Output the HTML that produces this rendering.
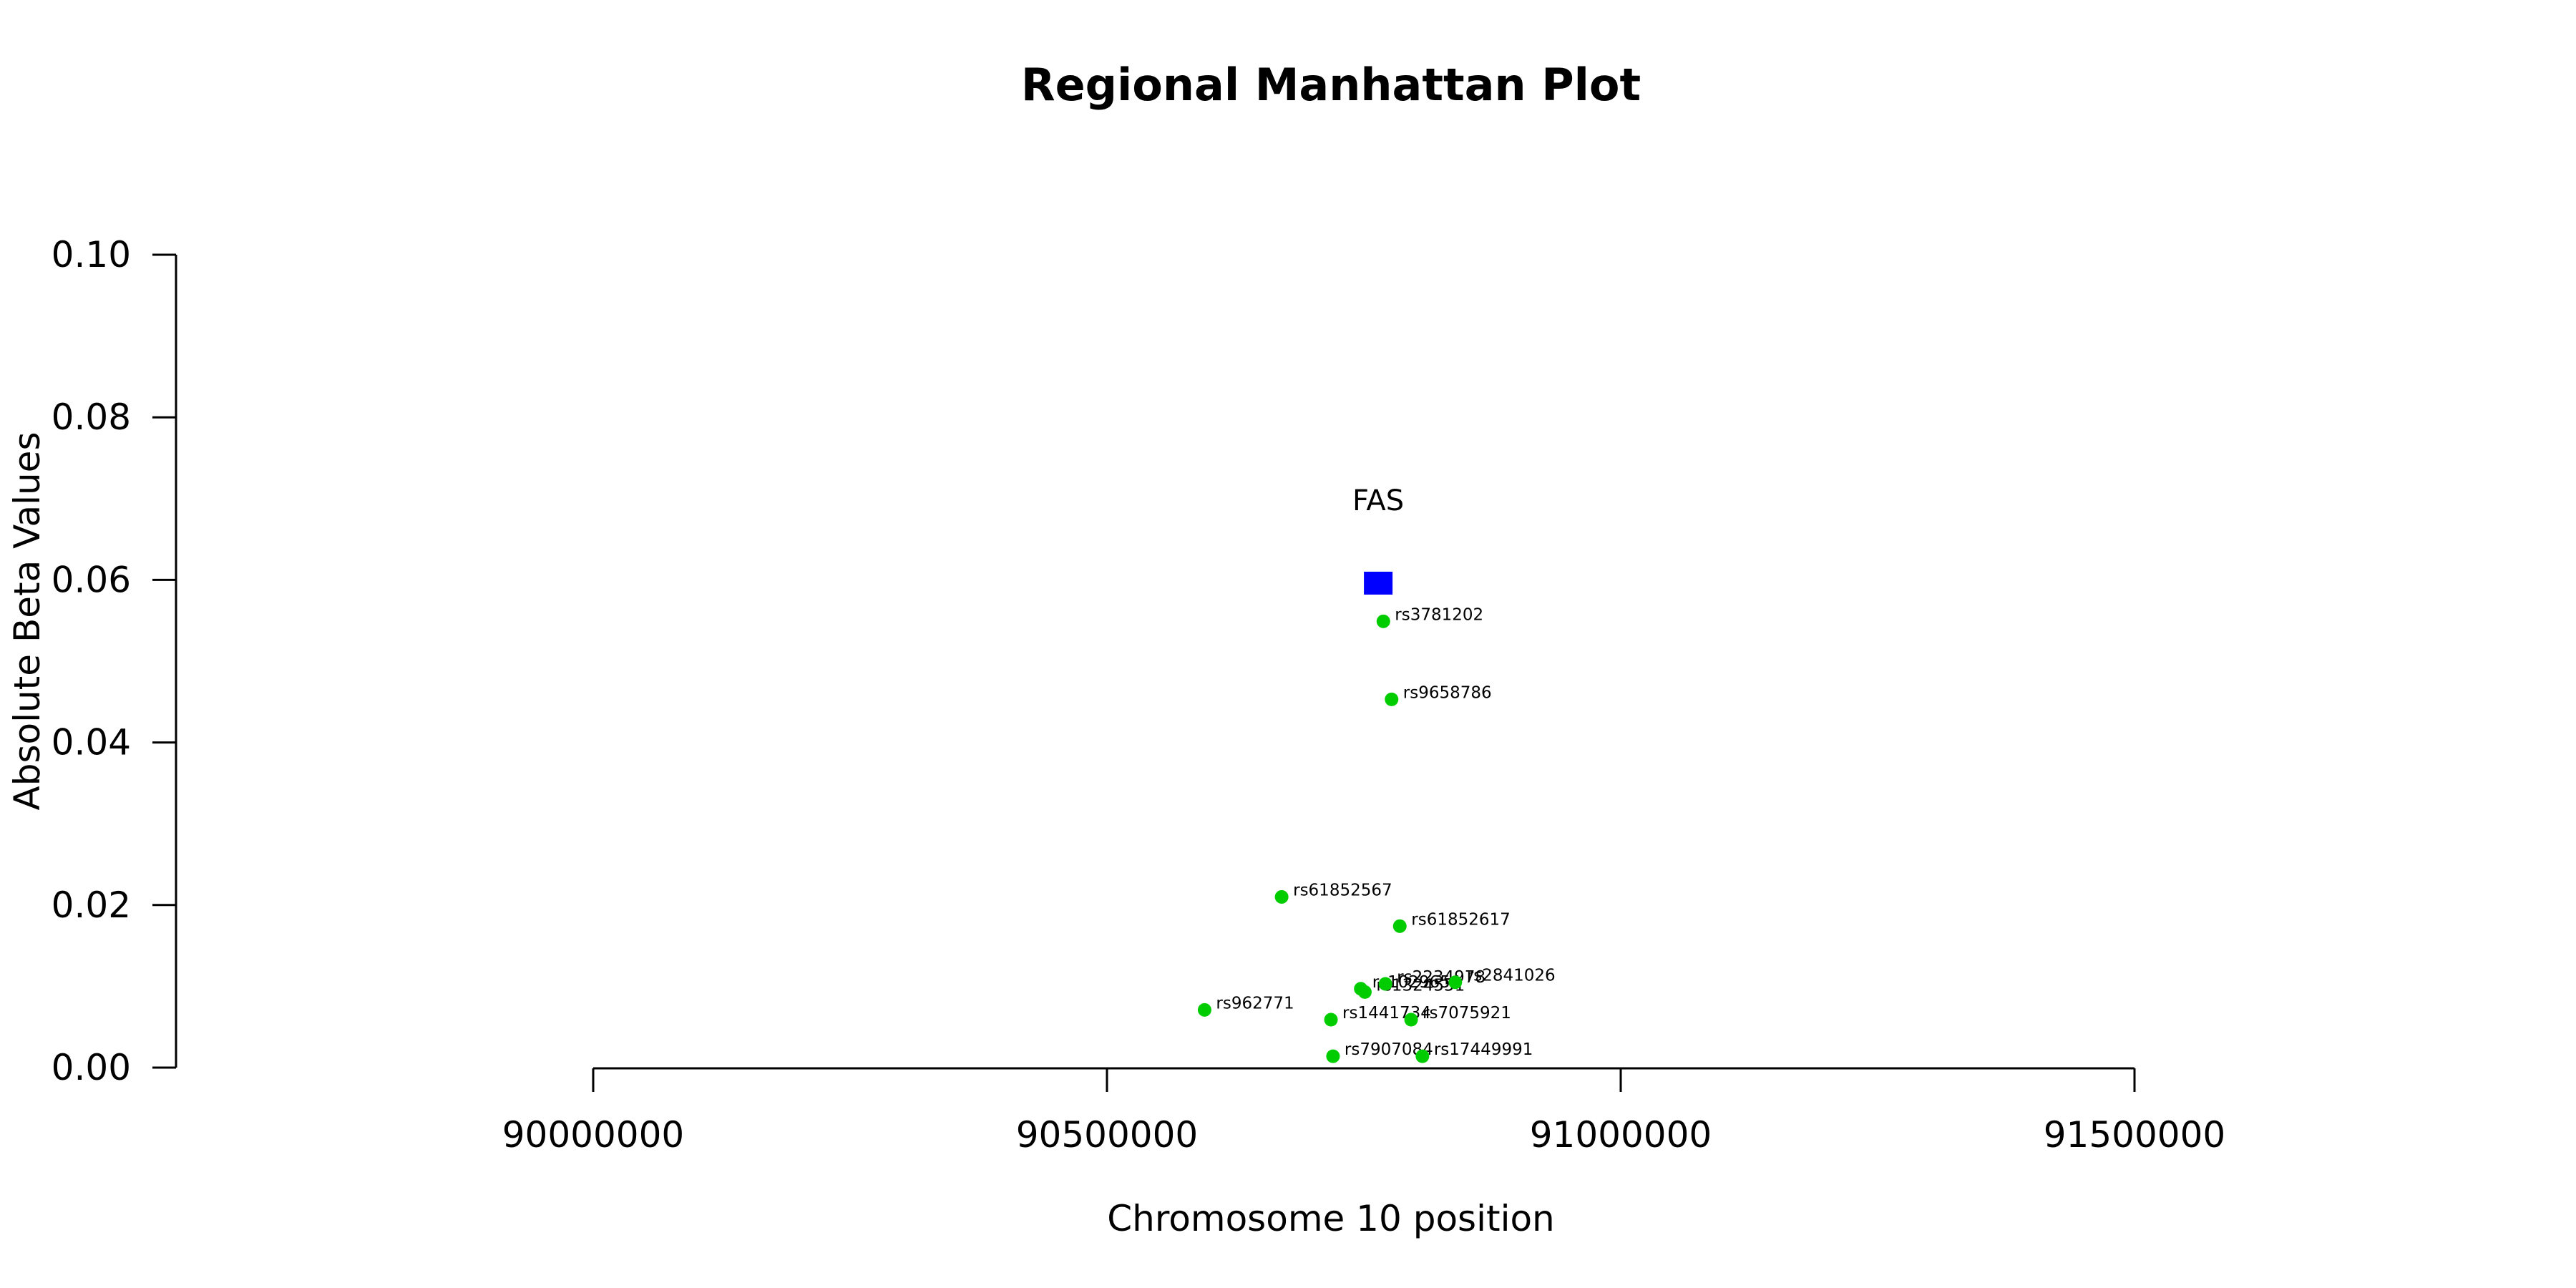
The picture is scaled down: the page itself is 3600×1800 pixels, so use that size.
<!DOCTYPE html>
<html><head><meta charset="utf-8"><style>
html,body{margin:0;padding:0;background:#fff;}
svg{display:block;font-family:"DejaVu Sans","Liberation Sans",sans-serif;}
</style></head><body>
<svg id="chart" width="3600" height="1800" viewBox="0 0 3600 1800" xmlns="http://www.w3.org/2000/svg">
<text x="1860" y="140" font-size="62" font-weight="bold" text-anchor="middle">Regional Manhattan Plot</text>
<text x="1860" y="1720" font-size="50" text-anchor="middle">Chromosome 10 position</text>
<text transform="translate(55,868) rotate(-90)" font-size="50" text-anchor="middle">Absolute Beta Values</text>
<g id="axes"></g>
<g id="marks"></g>
</svg>
<script>
const snpNames = ["rs3781202","rs9658786","rs61852567","rs61852617","rs962771","rs1441734","rs7075921","rs7907084","rs17449991","rs1029654","rs1324551","rs2234978","rs2841026"];
const snpPositions = [90769000,90777000,90670000,90785000,90595000,90718000,90796000,90720000,90807000,90747000,90751000,90771000,90839000];
const snpBetas = [0.0549,0.0453,0.0210,0.0174,0.0071,0.0059,0.0059,0.0014,0.0014,0.0097,0.0093,0.0103,0.0105];
const geneName = ["FAS"];
const genePosition = [90764000];
const geneBeta = [0.0596];
const yTicks = [0,0.02,0.04,0.06,0.08,0.10];
const yTickLabels = ["0.00","0.02","0.04","0.06","0.08","0.10"];
const xTicks = [90000000,90500000,91000000,91500000];
const xTickLabels = ["90000000","90500000","91000000","91500000"];

const NS="http://www.w3.org/2000/svg";
function xScale(v){return 829+(v-90000000)/500000*718;}
function yScale(v){return 1492-v/0.1*1136;}
function mk(tag,attrs,parent){const e=document.createElementNS(NS,tag);for(const k in attrs)e.setAttribute(k,attrs[k]);parent.appendChild(e);return e;}
const axes=document.getElementById('axes'), marks=document.getElementById('marks');

let yl=mk('line',{x1:246,y1:yScale(0),x2:246,y2:yScale(0.1),stroke:'#000','stroke-width':3},axes);


yTicks.forEach((t,i)=>{
  const y=yScale(t);
  const l=mk('line',{x1:213,y1:y,x2:246,y2:y,stroke:'#000','stroke-width':3},axes);
  
  
  const tx=mk('text',{x:183,y:y+17,'font-size':50,'text-anchor':'end'},axes);
  tx.textContent=yTickLabels[i];
  
  
});
let xl=mk('line',{x1:xScale(xTicks[0]),y1:1493,x2:xScale(xTicks[xTicks.length-1]),y2:1493,stroke:'#000','stroke-width':3},axes);


xTicks.forEach((t,i)=>{
  const x=xScale(t);
  const l=mk('line',{x1:x,y1:1493,x2:x,y2:1526,stroke:'#000','stroke-width':3},axes);
  
  
  const tx=mk('text',{x:x,y:1603,'font-size':50,'text-anchor':'middle'},axes);
  tx.textContent=xTickLabels[i];
  
  
});

snpNames.forEach((n,i)=>{
  const x=xScale(snpPositions[i]), y=yScale(snpBetas[i]);
  const c=mk('circle',{cx:x,cy:y,r:9.5,fill:'#00cc00'},marks);
  
  
  const t=mk('text',{x:x+16,y:y-2,'font-size':23},marks);
  t.textContent=n;
  
  
});
geneName.forEach((n,i)=>{
  const x=xScale(genePosition[i]), y=yScale(geneBeta[i]);
  const r=mk('rect',{x:x-20,y:y-16,width:40,height:32,fill:'#0000ff'},marks);
  
  
  const t=mk('text',{x:x,y:y-102,'font-size':40,'text-anchor':'middle'},marks);
  t.textContent=n;
  
  
});
</script>
</body></html>
